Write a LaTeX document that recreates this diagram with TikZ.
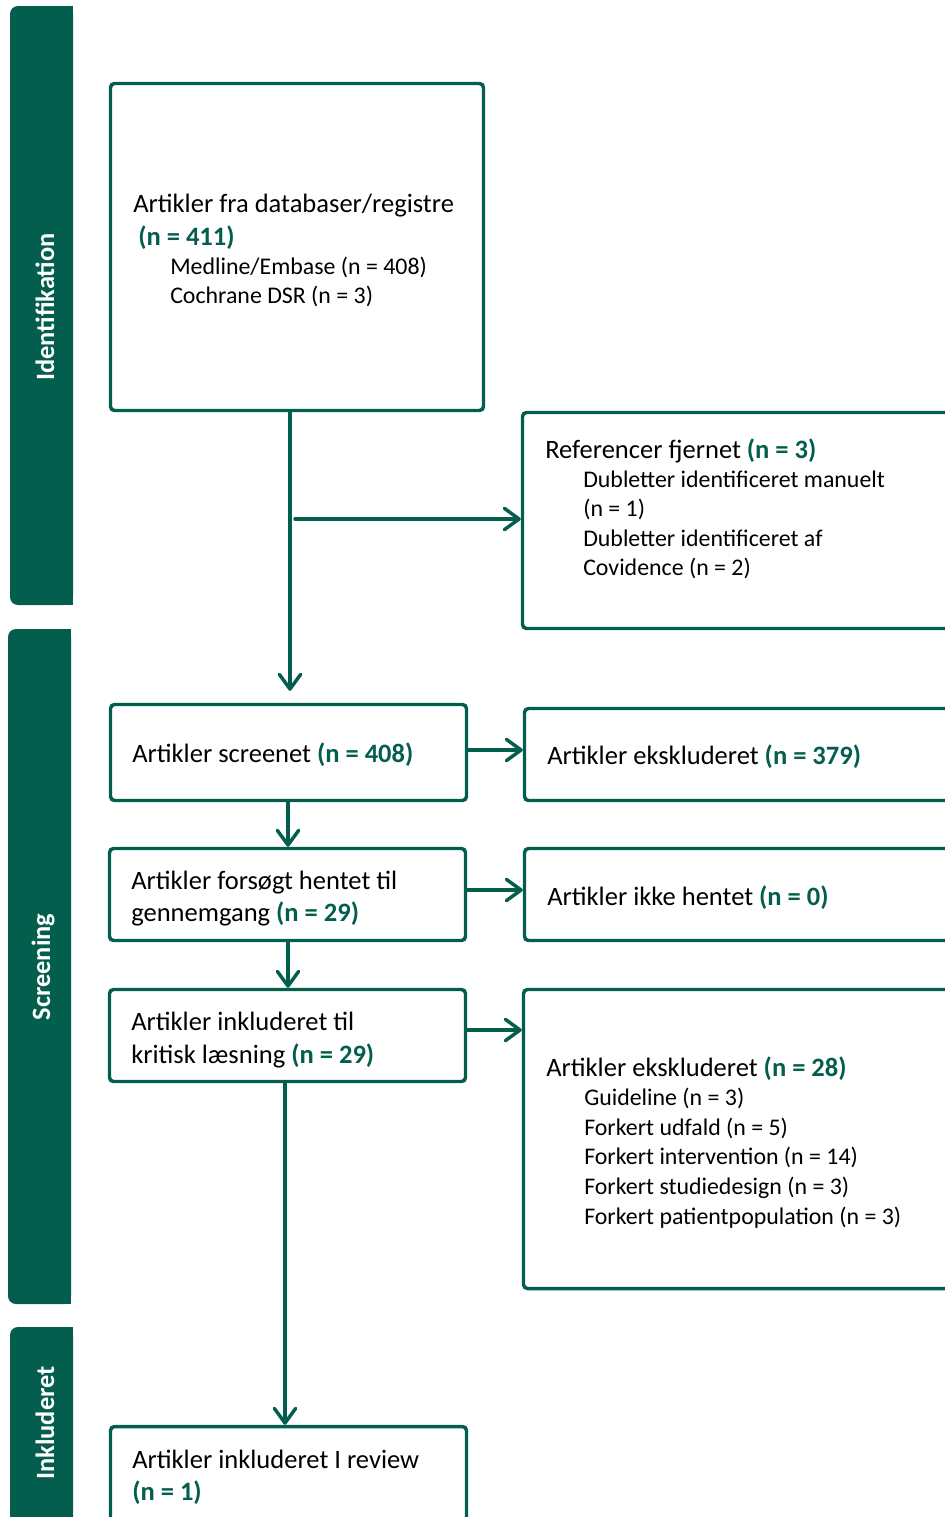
\documentclass[tikz,border=0pt]{standalone}
\usepackage{fontspec}
\setmainfont{Carlito}
\usetikzlibrary{arrows.meta,fit}
\definecolor{pgreen}{HTML}{045E4E}
\newcommand{\nval}[1]{\textcolor{pgreen}{\textbf{#1}}}

\begin{document}
\begin{tikzpicture}[x=0.75pt,y=-0.75pt,
  box/.style={draw=pgreen, line width=2.6pt, rounded corners=3pt, inner sep=0pt},
  arr/.style={draw=pgreen, line width=2.6pt, line cap=round, line join=round,
    -{Straight Barb[length=11pt,width=16pt,line cap=round,line join=round]}},
  bar/.style={fill=pgreen},
  side/.style={text=white, font=\fontsize{19.8}{23}\selectfont\bfseries, rotate=90, inner sep=0pt},
  txt/.style={anchor=base west, inner sep=0pt, font=\fontsize{19.9}{23}\selectfont},
  sub/.style={anchor=base west, inner sep=0pt, font=\fontsize{17.9}{21}\selectfont}]

\useasboundingbox (0,0) rectangle (945,1517);
\clip (0,0) rectangle (945,1517);

% phase bars, rounded on the left side only
\fill[bar, rounded corners=6pt] (10,6) rectangle (73,605);
\fill[bar] (40,6) rectangle (73,605);
\fill[bar, rounded corners=6pt] (8,629) rectangle (71,1304);
\fill[bar] (40,629) rectangle (71,1304);
\fill[bar, rounded corners=6pt] (10,1327) rectangle (73,1560);
\fill[bar] (40,1327) rectangle (73,1560);

\node[side] (lid) at (45,307) {Identifikation};
\node[side] (lsc) at (43,967) {Screening};
\node[side] (lin) at (45,1423) {Inkluderet};

% boxes
\node[box, fit={(110.5,83.5) (483.5,410.5)}] (b1) {};
\node[box, fit={(522.5,412.5) (970,628.5)}] (rr) {};
\node[box, fit={(110.5,704.5) (466.5,800.5)}] (b2) {};
\node[box, fit={(524.5,708.5) (970,800.5)}] (x1) {};
\node[box, fit={(109.5,848.5) (465.5,940.5)}] (b3) {};
\node[box, fit={(524.5,848.5) (970,940.5)}] (x2) {};
\node[box, fit={(109.5,989.5) (465.5,1081.5)}] (b4) {};
\node[box, fit={(523.5,989.5) (970,1288.5)}] (x3) {};
\node[box, fit={(110.5,1426.5) (466.5,1560)}] (b5) {};

% texts
\node[txt] (t1a) at (133,212) {Artikler fra databaser/registre};
\node[txt] (t1b) at (138,245) {\nval{(n = 411)}};
\node[sub] (t1c) at (170,274) {Medline/Embase (n = 408)};
\node[sub] (t1d) at (170,303) {Cochrane DSR (n = 3)};

\node[txt] (tra) at (545,458) {Referencer fjernet \nval{(n = 3)}};
\node[sub] (trb) at (583,487) {Dubletter identificeret manuelt};
\node[sub] (trc) at (583,516) {(n = 1)};
\node[sub] (trd) at (583,546) {Dubletter identificeret af};
\node[sub] (tre) at (583,575) {Covidence (n = 2)};

\node[txt] (t2) at (132,762) {Artikler screenet \nval{(n = 408)}};
\node[txt] (tx1) at (547,764) {Artikler ekskluderet \nval{(n = 379)}};

\node[txt] (t3a) at (131,889) {Artikler forsøgt hentet til};
\node[txt] (t3b) at (131,921) {gennemgang \nval{(n = 29)}};
\node[txt] (tx2) at (547,905) {Artikler ikke hentet \nval{(n = 0)}};

\node[txt] (t4a) at (131,1030) {Artikler inkluderet til};
\node[txt] (t4b) at (131,1063) {kritisk læsning \nval{(n = 29)}};

\node[txt] (tx3a) at (546,1076) {Artikler ekskluderet \nval{(n = 28)}};
\node[sub] (tx3b) at (584,1105) {Guideline (n = 3)};
\node[sub] (tx3c) at (584,1135) {Forkert udfald (n = 5)};
\node[sub] (tx3d) at (584,1164) {Forkert intervention (n = 14)};
\node[sub] (tx3e) at (584,1194) {Forkert studiedesign (n = 3)};
\node[sub] (tx3f) at (584,1224) {Forkert patientpopulation (n = 3)};

\node[txt] (t5a) at (132,1468) {Artikler inkluderet I review};
\node[txt] (t5b) at (132,1500) {\nval{(n = 1)}};

% connector guide positions
\coordinate (v1) at (290,0);
\coordinate (j1) at (295,519);
\coordinate (v2) at (288,0);
\coordinate (v3) at (285,0);
\coordinate (h1) at (0,750);
\coordinate (h2) at (0,890);
\coordinate (h3) at (0,1030);

% connectors
\draw[arr, shorten >=9pt] (b1.south -| v1) -- (b2.north -| v1);
\draw[arr] (j1) -- (j1 -| rr.west);
\draw[arr] (b2.east |- h1) -- (x1.west |- h1);
\draw[arr] (b2.south -| v2) -- (b3.north -| v2);
\draw[arr] (b3.east |- h2) -- (x2.west |- h2);
\draw[arr] (b3.south -| v2) -- (b4.north -| v2);
\draw[arr] (b4.east |- h3) -- (x3.west |- h3);
\draw[arr] (b4.south -| v3) -- (b5.north -| v3);
\end{tikzpicture}
\end{document}
